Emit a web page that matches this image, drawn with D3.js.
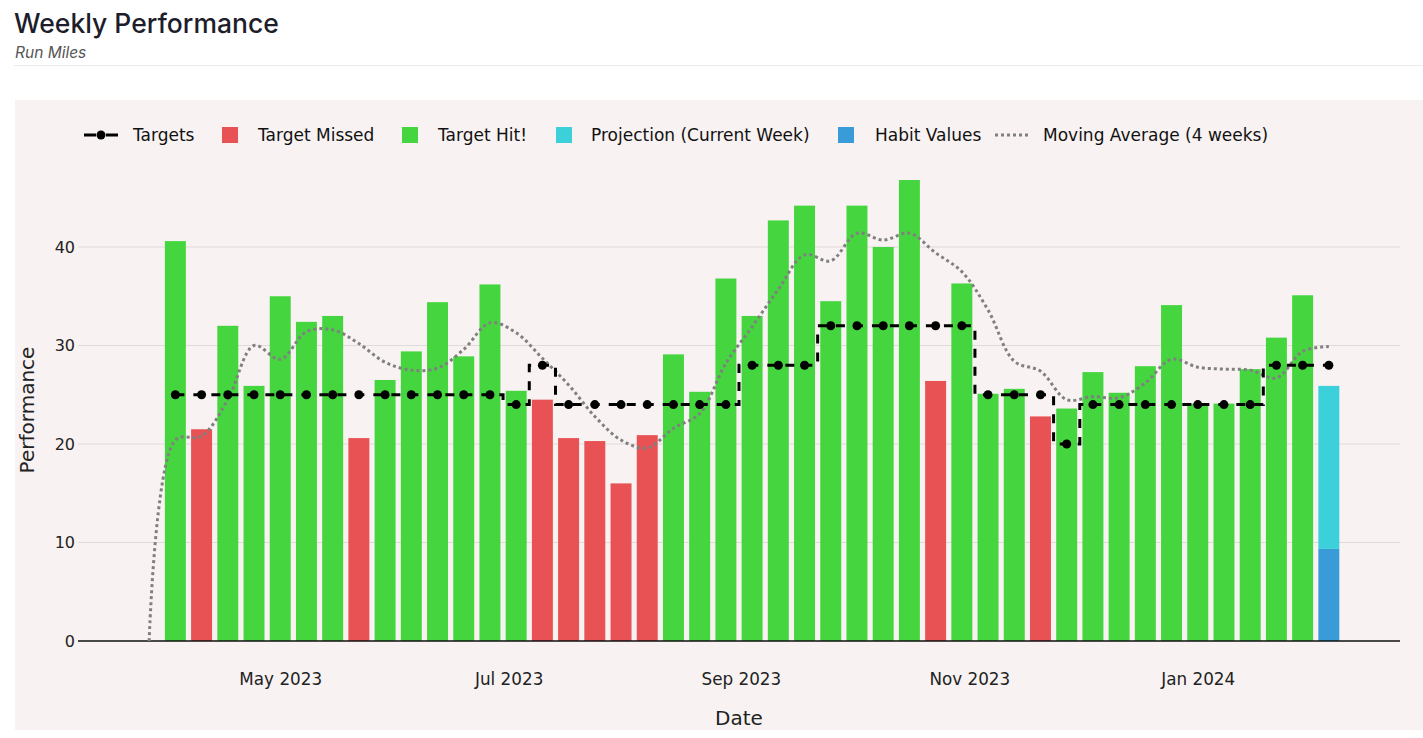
<!DOCTYPE html>
<html>
<head>
<meta charset="utf-8">
<script src="https://cdn.jsdelivr.net/npm/d3@7"></script>
<style>
  body { margin: 0; background: #fff; }
  svg { display: block; }
</style>
</head>
<body>
<svg id="chart" width="1423" height="738"></svg>
<script>
// week start dates (Mondays)
const weeks = [
  '2023-04-03', '2023-04-10', '2023-04-17', '2023-04-24', '2023-05-01', '2023-05-08',
  '2023-05-15', '2023-05-22', '2023-05-29', '2023-06-05', '2023-06-12', '2023-06-19',
  '2023-06-26', '2023-07-03', '2023-07-10', '2023-07-17', '2023-07-24', '2023-07-31',
  '2023-08-07', '2023-08-14', '2023-08-21', '2023-08-28', '2023-09-04', '2023-09-11',
  '2023-09-18', '2023-09-25', '2023-10-02', '2023-10-09', '2023-10-16', '2023-10-23',
  '2023-10-30', '2023-11-06', '2023-11-13', '2023-11-20', '2023-11-27', '2023-12-04',
  '2023-12-11', '2023-12-18', '2023-12-25', '2024-01-01', '2024-01-08', '2024-01-15',
  '2024-01-22', '2024-01-29', '2024-02-05',
]

// miles run per week (last week is the current, unfinished one)
const miles = [
  40.6, 21.5, 32.0, 25.9, 35.0, 32.4, 33.0, 20.6, 26.5, 29.4, 34.4, 28.9,
  36.2, 25.4, 24.5, 20.6, 20.3, 16.0, 20.9, 29.1, 25.3, 36.8, 33.0, 42.7,
  44.2, 34.5, 44.2, 40.0, 46.8, 26.4, 36.3, 25.1, 25.6, 22.8, 23.6, 27.3,
  25.2, 27.9, 34.1, 24.1, 24.1, 27.6, 30.8, 35.1, 9.35,
]

const targets = [
  25, 25, 25, 25, 25, 25, 25, 25, 25, 25, 25, 25,
  25, 24, 28, 24, 24, 24, 24, 24, 24, 24, 28, 28,
  28, 32, 32, 32, 32, 32, 32, 25, 25, 25, 20, 24,
  24, 24, 24, 24, 24, 24, 28, 28, 28,
]

// projected total for the current week
const projectionTotal = 25.9

// 4 week moving average, starting one week before the first bar
const maWeeks = ['2023-03-27'].concat(weeks)
const maValues = [
  0, 20.4, 20.8, 24.5, 30.0, 28.6, 31.4, 31.6, 30.2, 28.3, 27.5, 27.7,
  29.6, 32.3, 31.3, 28.7, 26.0, 22.8, 20.4, 19.6, 21.6, 23.1, 28.2, 31.9,
  35.7, 39.2, 38.6, 41.4, 40.7, 41.4, 39.4, 37.5, 33.6, 28.4, 27.4, 24.5,
  24.8, 24.7, 26.2, 28.6, 27.8, 27.6, 27.5, 26.7, 29.4, 29.9,
]

const yTicks = [0, 10, 20, 30, 40]

const colors = {
  missed: '#e85254',
  hit: '#45d63f',
  projection: '#3bd0da',
  habit: '#3a9bd9',
  ma: '#808080',
}

const parse = d3.utcParse('%Y-%m-%d')
const svg = d3.select('#chart')
const font = "'DejaVu Sans', Verdana, sans-serif"

// header
svg.append('text')
  .attr('x', 14).attr('y', 33)
  .style('font-family', 'Inter, sans-serif')
  .style('font-size', '26.5px')
  .style('font-weight', 500)
  .style('fill', '#1d1d2b')
  .text('Weekly Performance')
svg.append('text')
  .attr('x', 15).attr('y', 58)
  .style('font-family', 'Inter, sans-serif')
  .style('font-style', 'italic')
  .style('font-size', '15.5px')
  .style('fill', '#555')
  .text('Run Miles')
svg.append('line')
  .attr('x1', 14).attr('x2', 1423).attr('y1', 65.5).attr('y2', 65.5)
  .style('stroke', '#ebebeb')

svg.append('rect')
  .attr('x', 15).attr('y', 100).attr('width', 1408).attr('height', 630)
  .attr('fill', '#f8f2f2')

const plotLeft = 78
const plotRight = 1400
const plotTop = 165
const plotBottom = 641

const x = d3.scaleUtc()
  .domain([parse('2023-03-08'), parse('2024-02-24')])
  .range([plotLeft, plotRight])
const y = d3.scaleLinear()
  .domain([0, (plotBottom - plotTop) / 9.85])
  .range([plotBottom, plotTop])

const dayPx = x(parse('2023-01-02')) - x(parse('2023-01-01'))
const barW = dayPx * 7 * 0.8

// gridlines
svg.append('g')
  .selectAll('line')
  .data(yTicks.filter((d) => d > 0))
  .join('line')
  .attr('x1', plotLeft).attr('x2', plotRight)
  .attr('y1', (d) => y(d)).attr('y2', (d) => y(d))
  .style('stroke', '#e0dada')
  .style('stroke-width', 1)

// y tick labels
svg.append('g')
  .selectAll('text')
  .data(yTicks)
  .join('text')
  .attr('x', plotLeft - 3)
  .attr('y', (d) => y(d))
  .attr('dy', '0.35em')
  .attr('text-anchor', 'end')
  .style('font-family', font)
  .style('font-size', '16px')
  .style('fill', '#222')
  .text((d) => d)

// x axis labels
const xAxis = d3.axisBottom(x)
  .ticks(d3.utcMonth.every(2))
  .tickFormat(d3.utcFormat('%b %Y'))
  .tickSize(0)
  .tickPadding(32)
const gx = svg.append('g')
  .attr('transform', `translate(0,${plotBottom})`)
  .call(xAxis)
gx.select('.domain').remove()
gx.selectAll('text')
  .style('font-family', font)
  .style('font-size', '16.8px')
  .style('fill', '#222')

// axis titles
svg.append('text')
  .attr('x', (plotLeft + plotRight) / 2).attr('y', 725)
  .attr('text-anchor', 'middle')
  .style('font-family', font)
  .style('font-size', '20px')
  .style('fill', '#222')
  .text('Date')
svg.append('text')
  .attr('transform', `translate(34,${(plotTop + plotBottom) / 2 + 7}) rotate(-90)`)
  .attr('text-anchor', 'middle')
  .style('font-family', font)
  .style('font-size', '20px')
  .style('fill', '#222')
  .text('Performance')

// bars
const last = weeks.length - 1
const bars = weeks.map((w, i) => ({
  date: parse(w),
  value: miles[i],
  target: targets[i],
  current: i === last,
}))

svg.append('g')
  .selectAll('rect')
  .data(bars)
  .join('rect')
  .attr('x', (d) => x(d.date) - barW / 2)
  .attr('width', barW)
  .attr('y', (d) => y(d.value))
  .attr('height', (d) => y(0) - y(d.value))
  .attr('fill', (d) => {
    if (d.current) return colors.habit
    return d.value >= d.target ? colors.hit : colors.missed
  })

// projection stacked on the current week
const cur = bars[last]
svg.append('rect')
  .attr('x', x(cur.date) - barW / 2)
  .attr('width', barW)
  .attr('y', y(projectionTotal))
  .attr('height', y(cur.value) - y(projectionTotal))
  .attr('fill', colors.projection)

// zero line
svg.append('line')
  .attr('x1', plotLeft).attr('x2', plotRight)
  .attr('y1', y(0)).attr('y2', y(0))
  .style('stroke', '#111')
  .style('stroke-width', 1.5)

// moving average
const maLine = d3.line()
  .x((d, i) => x(parse(maWeeks[i])))
  .y((d) => y(d))
  .curve(d3.curveCatmullRom.alpha(0.5))
svg.append('path')
  .datum(maValues)
  .attr('d', maLine)
  .attr('fill', 'none')
  .style('stroke', colors.ma)
  .style('stroke-width', 3)
  .style('stroke-dasharray', '3,3')

// targets, stepped between weeks
const targetLine = d3.line()
  .x((d) => x(d.date))
  .y((d) => y(d.target))
  .curve(d3.curveStep)
svg.append('path')
  .datum(bars)
  .attr('d', targetLine)
  .attr('fill', 'none')
  .style('stroke', '#000')
  .style('stroke-width', 3)
  .style('stroke-dasharray', '9,9')
svg.append('g')
  .selectAll('circle')
  .data(bars)
  .join('circle')
  .attr('cx', (d) => x(d.date))
  .attr('cy', (d) => y(d.target))
  .attr('r', 4.5)
  .attr('fill', '#000')

// legend
const legendY = 135
const legend = svg.append('g').style('font-family', font).style('font-size', '17px')
const items = [
  { type: 'target', label: 'Targets', x: 84, tx: 133 },
  { type: 'square', color: colors.missed, label: 'Target Missed', x: 222, tx: 258 },
  { type: 'square', color: colors.hit, label: 'Target Hit!', x: 402, tx: 438 },
  { type: 'square', color: colors.projection, label: 'Projection (Current Week)', x: 556, tx: 591 },
  { type: 'square', color: colors.habit, label: 'Habit Values', x: 838, tx: 875 },
  { type: 'ma', label: 'Moving Average (4 weeks)', x: 995, tx: 1043 },
]
items.forEach((it) => {
  if (it.type === 'square') {
    legend.append('rect')
      .attr('x', it.x).attr('y', legendY - 8)
      .attr('width', 16).attr('height', 16)
      .attr('fill', it.color)
  } else if (it.type === 'target') {
    legend.append('line')
      .attr('x1', it.x).attr('x2', it.x + 12)
      .attr('y1', legendY).attr('y2', legendY)
      .style('stroke', '#000').style('stroke-width', 3)
    legend.append('line')
      .attr('x1', it.x + 22).attr('x2', it.x + 34)
      .attr('y1', legendY).attr('y2', legendY)
      .style('stroke', '#000').style('stroke-width', 3)
    legend.append('circle')
      .attr('cx', it.x + 17).attr('cy', legendY).attr('r', 4.5)
      .attr('fill', '#000')
  } else {
    legend.append('line')
      .attr('x1', it.x).attr('x2', it.x + 36)
      .attr('y1', legendY).attr('y2', legendY)
      .style('stroke', colors.ma).style('stroke-width', 3)
      .style('stroke-dasharray', '3,3')
  }
  legend.append('text')
    .attr('x', it.tx).attr('y', legendY)
    .attr('dy', '0.35em')
    .style('fill', '#111')
    .text(it.label)
})
</script>
</body>
</html>
